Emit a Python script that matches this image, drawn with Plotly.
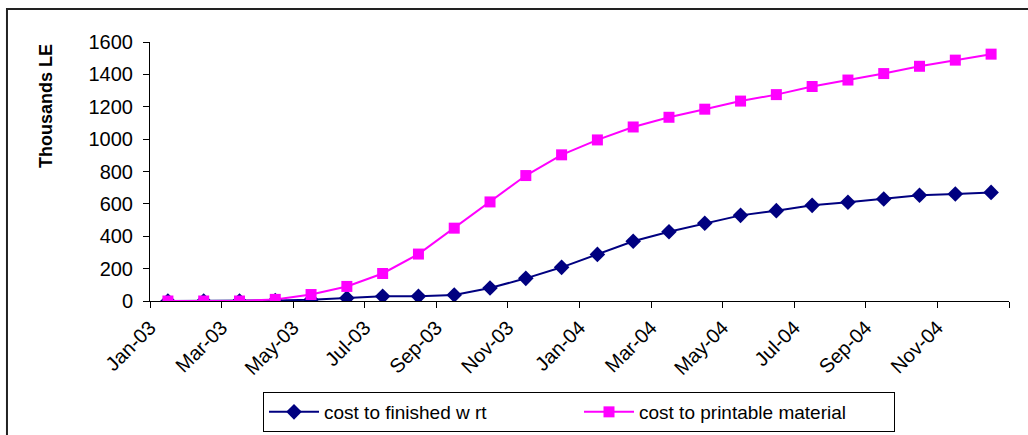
import plotly.graph_objects as go

# Monthly cumulative costs (thousands LE), Jan 2003 - Dec 2004
months = ["Jan-03", "Feb-03", "Mar-03", "Apr-03", "May-03", "Jun-03",
          "Jul-03", "Aug-03", "Sep-03", "Oct-03", "Nov-03", "Dec-03",
          "Jan-04", "Feb-04", "Mar-04", "Apr-04", "May-04", "Jun-04",
          "Jul-04", "Aug-04", "Sep-04", "Oct-04", "Nov-04", "Dec-04"]

finished_wrt = [0, 0, 0, 3, 8, 18, 29, 29, 37, 80, 140, 208,
                288, 369, 428, 480, 529, 558, 591, 610, 630, 653, 661, 671]

printable_material = [0, 0, 0, 10, 40, 90, 170, 290, 450, 612, 775, 903,
                      995, 1075, 1135, 1185, 1235, 1275, 1325, 1365, 1405, 1450, 1488, 1525]

# Category positions: each month sits in the middle of its slot
x_pos = [i + 0.5 for i in range(len(months))]

# Tick marks on slot boundaries every two months, labelled with the month that follows
tick_vals = list(range(0, len(months) + 1, 2))
tick_text = [months[v] if v < len(months) else "" for v in tick_vals]

FONT = "Liberation Sans, Arial, sans-serif"
W, H = 1028, 435

fig = go.Figure()
fig.add_trace(go.Scatter(
    x=x_pos, y=finished_wrt, name="cost to finished w rt",
    mode="lines+markers",
    line=dict(color="#000080", width=2),
    marker=dict(symbol="diamond", size=12, color="#000080"),
))
fig.add_trace(go.Scatter(
    x=x_pos, y=printable_material, name="cost to printable material",
    mode="lines+markers",
    line=dict(color="#FF00FF", width=2),
    marker=dict(symbol="square", size=11, color="#FF00FF"),
))

fig.update_layout(
    width=W, height=H, autosize=False,
    margin=dict(l=150, r=19, t=42, b=134, autoexpand=False),
    paper_bgcolor="white", plot_bgcolor="white",
    font=dict(family=FONT, size=20, color="black"),
    showlegend=True,
    legend=dict(
        orientation="h",
        xref="container", yref="container",
        x=579 / W, xanchor="center", y=(H - 432) / H, yanchor="bottom",
        bordercolor="black", borderwidth=1, bgcolor="white",
        font=dict(family=FONT, size=19, color="black"),
        itemwidth=50, entrywidth=250, tracegroupgap=0,
    ),
    xaxis=dict(
        range=[0, len(months)], tickmode="array",
        tickvals=tick_vals, ticktext=tick_text, tickangle=-45,
        showgrid=False, zeroline=False, automargin=False,
        showline=True, linecolor="black", linewidth=1,
        ticks="outside", ticklen=6, tickcolor="black",
        tickfont=dict(family=FONT, size=20),
    ),
    yaxis=dict(
        range=[0, 1600], tickmode="linear", tick0=0, dtick=200,
        showgrid=False, zeroline=False, automargin=False,
        showline=True, linecolor="black", linewidth=1,
        ticks="outside", ticklen=6, tickcolor="black",
        ticklabelstandoff=6,
        tickfont=dict(family=FONT, size=20),
    ),
    annotations=[dict(
        text="<b>Thousands LE</b>", textangle=-90,
        xref="paper", yref="paper", x=-0.121, y=0.753,
        xanchor="center", yanchor="middle", showarrow=False,
        font=dict(family=FONT, size=18, color="black"),
    )],
    shapes=[dict(
        type="rect", xref="paper", yref="paper",
        x0=-0.1665, x1=1.5, y0=-1.0, y1=1.127,
        line=dict(color="#222222", width=2), fillcolor="rgba(0,0,0,0)",
        layer="below",
    )],
)

fig.write_html("out.html")
